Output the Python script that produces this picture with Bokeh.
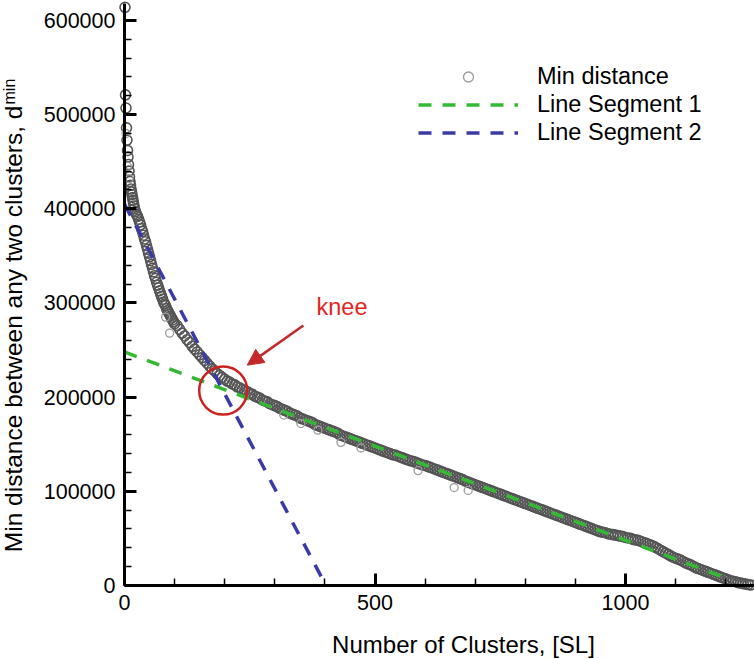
import math
from bokeh.plotting import figure
from bokeh.models import (Range1d, SingleIntervalTicker, BasicTickFormatter, Label,
                          Arrow, NormalHead, Legend, LegendItem)
from bokeh.embed import file_html
from bokeh.resources import INLINE

# ---------------- data ----------------
# number of clusters (x) and min distance (y, in thousands)
x_head = list(range(1, 21))
y_head_k = [614, 521, 507, 486, 473, 462, 455, 447, 440, 434,
            429, 425, 421, 418, 415, 412, 409, 406, 403, 400]

x_steep = list(range(22, 101, 2))
y_steep_k = [397, 394, 392, 389, 386, 383, 379, 376, 372, 368,
             365, 361, 357, 353, 349, 345, 341, 337, 333, 329,
             326, 322, 319, 316, 313, 310, 307, 304, 301, 299,
             297, 294, 292, 290, 288, 286, 284, 282, 280, 278]

x_tail = list(range(105, 1251, 5))
y_tail_k = [
    # 105-200
    276, 272, 268, 265, 261, 258, 254, 251, 248, 245, 242, 239, 236, 233, 230, 228, 225, 223, 221, 219,
    # 205-300
    217, 216, 214, 213, 211, 210, 208, 207, 206, 204, 203, 201, 200, 199, 197, 196, 195, 193, 192, 191,
    # 305-400
    190, 188, 187, 186, 185, 183, 182, 181, 180, 178, 177, 176, 175, 174, 173, 171, 170, 169, 168, 167,
    # 405-500
    166, 165, 164, 163, 162, 160, 159, 158, 157, 156, 155, 154, 153, 152, 151, 150, 149, 148, 147, 146,
    # 505-600
    145, 144, 143, 142, 141, 140, 139, 138.5, 137.5, 136.5, 135.5, 134.5, 133.5, 132.5, 132, 131, 130, 129, 128, 127.5,
    # 605-700
    126.5, 125.5, 124.5, 123.5, 122.5, 121.5, 120.5, 119.5, 118.5, 117.5, 116.5, 115.5, 114.5, 113.5, 112.5, 111, 110, 109, 108, 107,
    # 705-800
    106, 105, 104, 103, 102, 101, 100, 99, 98, 97, 96, 95, 94, 93, 92, 91, 90, 89, 88, 87,
    # 805-900
    86, 85, 84, 83, 82, 81, 80, 79, 78, 77, 76, 75, 74, 73, 72, 71, 70, 69, 68, 67,
    # 905-1000
    66, 65, 64, 63, 62, 61, 60, 59, 58, 57, 56.5, 56, 55, 54.5, 54, 53.5, 53, 52.5, 52, 51,
    # 1005-1100
    50.5, 50, 49, 48.5, 48, 47, 46, 45, 44, 43, 42, 40.5, 39, 37.5, 36, 34.5, 33, 31.5, 30, 29,
    # 1105-1200
    28, 27, 25.5, 24, 23, 22, 20.5, 19, 18, 17, 16, 15, 14, 13, 12, 11, 10, 9, 8, 7,
    # 1205-1250
    6, 5, 4.5, 4, 3, 2.5, 2, 1.5, 1, 0.5,
]

# a few isolated points lying off the main band
x_out = [3, 6, 9, 82, 90, 318, 352, 386, 432, 472, 586, 658, 686]
y_out_k = [480, 445, 432, 285, 268, 181, 172, 165, 152, 146, 122, 104, 101]

# fitted line segments
seg1_x = [0, 1205]
seg1_y = [248000, 7000]
seg2_x = [0, 402]
seg2_y = [405000, 0]

# knee marker
knee_x = [197]
knee_y = [207000]

x_ticks_interval = 500
y_ticks_interval = 100000
x_axis_max = 1257
y_axis_max = 618000

# ---------------- geometry (canvas px <-> data) ----------------
W, H = 754, 659
X0_PX, X_SCALE = 124, 0.501      # px of x=0, px per unit
Y0_PX, Y_SCALE = 585, 0.9417e-3  # px of y=0 (from top), px per unit


def dx(px):
    return (px - X0_PX) / X_SCALE


def dy(py):
    return (Y0_PX - py) / Y_SCALE


FONT = "Liberation Sans"

p = figure(width=W, height=H, x_range=Range1d(dx(0), dx(W)), y_range=Range1d(dy(H), dy(0)),
           output_backend="svg", toolbar_location=None, min_border=0)
p.xgrid.visible = False
p.ygrid.visible = False
p.outline_line_color = None
p.background_fill_color = "white"
p.border_fill_color = "white"

p.xaxis[0].ticker = SingleIntervalTicker(interval=x_ticks_interval, num_minor_ticks=5)
p.yaxis[0].ticker = SingleIntervalTicker(interval=y_ticks_interval, num_minor_ticks=5)
p.yaxis[0].formatter = BasicTickFormatter(use_scientific=False)
p.xaxis[0].fixed_location = 0
p.yaxis[0].fixed_location = 0
p.xaxis[0].bounds = (0, x_axis_max)
p.yaxis[0].bounds = (0, y_axis_max)

for ax in (p.xaxis[0], p.yaxis[0]):
    ax.axis_line_width = 3
    ax.axis_line_color = "black"
    ax.major_tick_in = 12
    ax.major_tick_out = 0
    ax.minor_tick_in = 7
    ax.minor_tick_out = 0
    ax.major_tick_line_width = 3
    ax.minor_tick_line_width = 1.5
    ax.major_tick_line_color = "black"
    ax.minor_tick_line_color = "black"
    ax.major_label_text_font = FONT
    ax.major_label_text_font_size = "21.5px"
    ax.major_label_text_color = "black"
    ax.major_label_standoff = 9

# scatter data
xs = x_head + x_steep + x_tail
ys = [v * 1000 for v in (y_head_k + y_steep_k + y_tail_k)]
p.scatter(xs, ys, marker="circle", size=10, fill_color=None,
          line_color="#545454", line_width=1.6)
outl = p.scatter(x_out, [v * 1000 for v in y_out_k], marker="circle", size=8, fill_color=None,
                 line_color="#9c9c9c", line_width=1.3)

l1 = p.line(seg1_x, seg1_y, line_color="#35b935", line_width=3.5, line_dash="13 11")
l2 = p.line(seg2_x, seg2_y, line_color="#3b3ba8", line_width=3.5, line_dash="13 11")

p.scatter(knee_x, knee_y, marker="circle", size=48, fill_color=None,
          line_color="#cc2222", line_width=2.5)

p.add_layout(Arrow(end=NormalHead(size=16, fill_color="#c4282a", line_color="#c4282a"),
                   x_start=357, y_start=276000, x_end=245, y_end=234000,
                   line_color="#c4282a", line_width=2.5))

# Bokeh renders "alphabetic" labels ~0.375em lower than the anchor, compensate
SHIFT = 9

p.add_layout(Label(x=dx(316), y=dy(315 - SHIFT), text="knee", text_color="#e3261c",
                   text_font=FONT, text_font_size="23.5px", text_baseline="alphabetic"))

legend = Legend(items=[LegendItem(label="Min distance", renderers=[outl]),
                       LegendItem(label="Line Segment 1", renderers=[l1]),
                       LegendItem(label="Line Segment 2", renderers=[l2])],
                location=(418, 513), border_line_color=None, background_fill_alpha=0,
                padding=0, spacing=1, margin=0, glyph_width=100, glyph_height=25,
                label_height=25, label_standoff=19, label_text_font=FONT,
                label_text_font_size="23.5px", label_text_color="black")
p.add_layout(legend)

# axis titles
p.add_layout(Label(x=dx(463), y=dy(653 - SHIFT), text="Number of Clusters, [SL]",
                   text_font=FONT, text_font_size="24px", text_align="center",
                   text_baseline="alphabetic", text_color="black"))
p.add_layout(Label(x=dx(22 - SHIFT), y=dy(105), text="Min distance between any two clusters, d",
                   angle=math.pi / 2, text_font=FONT, text_font_size="24.5px",
                   text_align="right", text_baseline="alphabetic", text_color="black"))
p.add_layout(Label(x=dx(9), y=dy(104), text="min",
                   angle=math.pi / 2, text_font=FONT, text_font_size="16px",
                   text_align="left", text_baseline="alphabetic", text_color="black"))

open("out.html", "w").write(file_html(p, INLINE))
